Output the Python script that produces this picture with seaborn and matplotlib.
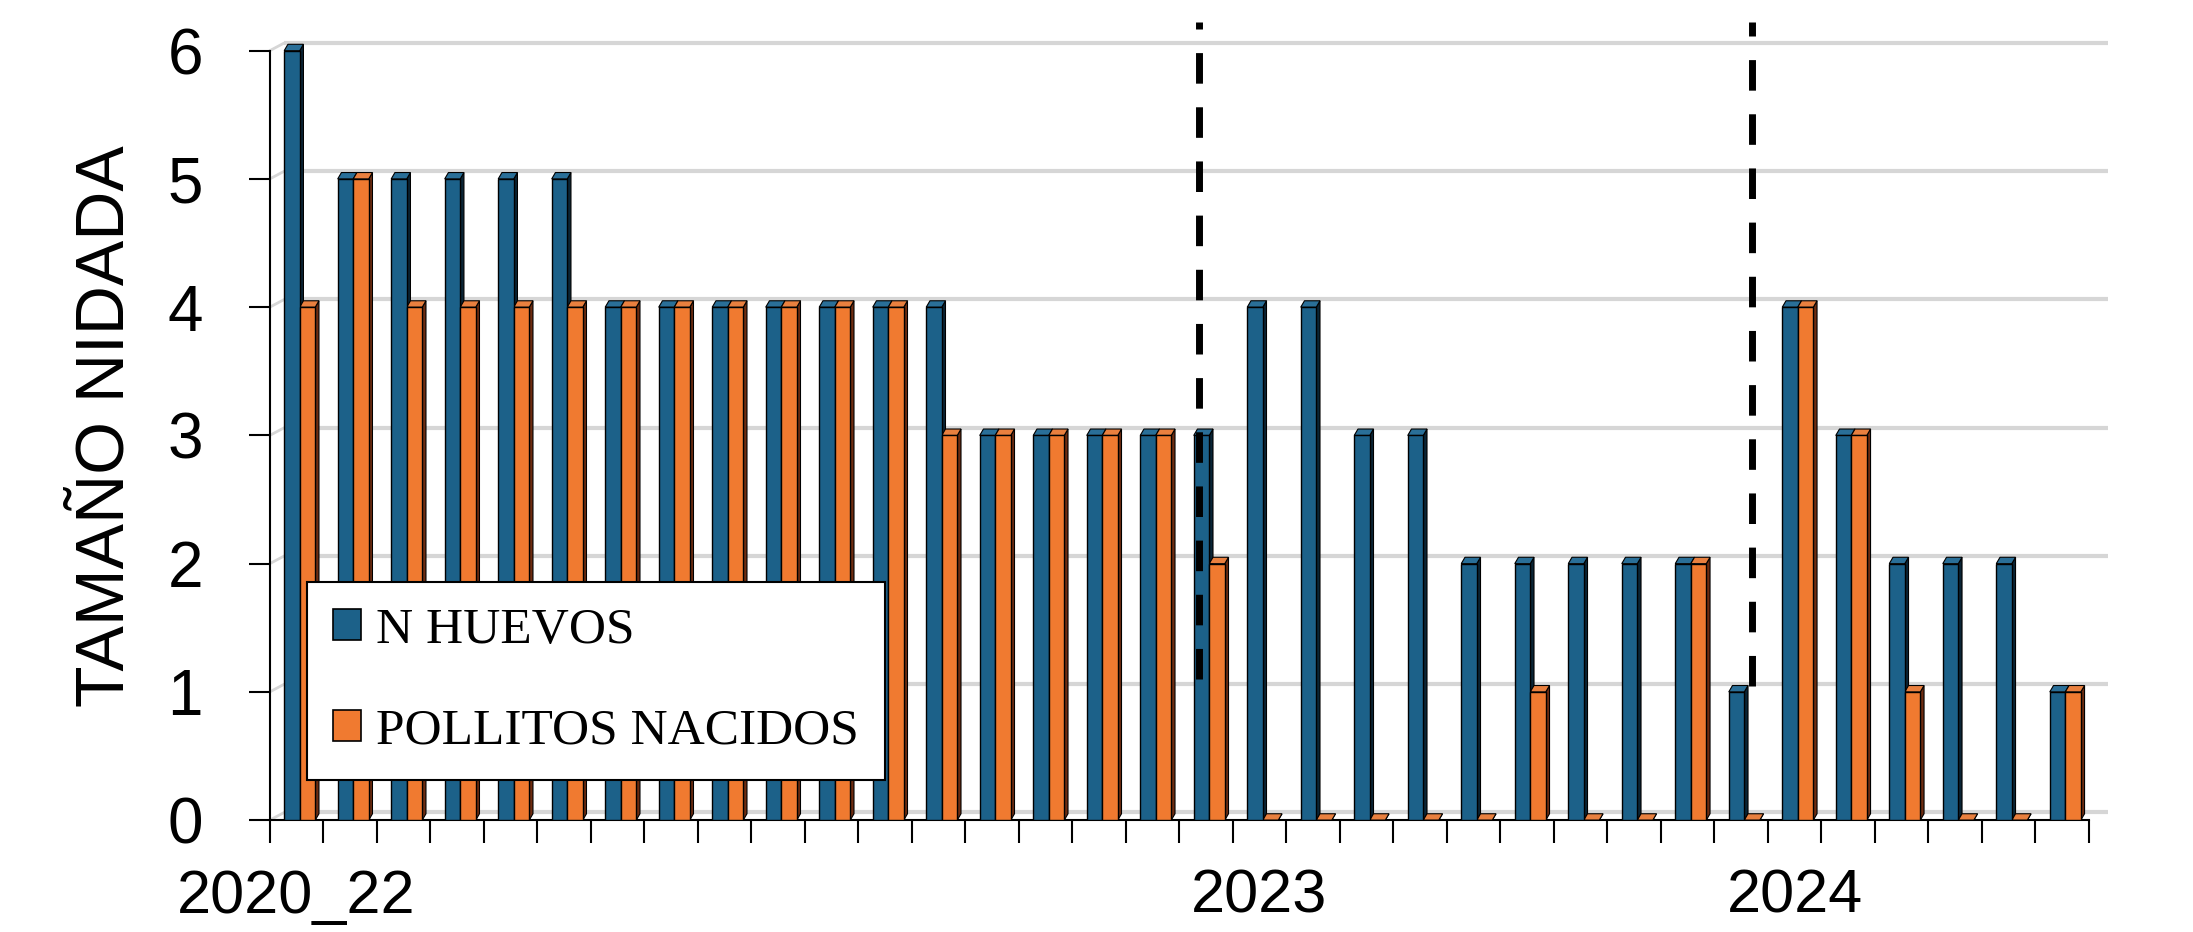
import numpy as np
import pandas as pd
import matplotlib
matplotlib.use("Agg")
import matplotlib.pyplot as plt
from matplotlib.patches import Polygon, Patch
import seaborn as sns

# ---------------- data ----------------
nests = list(range(1, 35))
n_huevos = [6, 5, 5, 5, 5, 5, 4, 4, 4, 4, 4, 4, 4, 3, 3, 3, 3, 3,
            4, 4, 3, 3, 2, 2, 2, 2, 2, 1, 4, 3, 2, 2, 2, 1]
pollitos = [4, 5, 4, 4, 4, 4, 4, 4, 4, 4, 4, 4, 3, 3, 3, 3, 3, 2,
            0, 0, 0, 0, 0, 1, 0, 0, 2, 0, 4, 3, 1, 0, 0, 1]
series_names = ["N HUEVOS", "POLLITOS NACIDOS"]
tick_label_pos = [0, 18, 28]
tick_labels = ["2020_22", "2023", "2024"]
y_ticks = [0, 1, 2, 3, 4, 5, 6]
separator_x = [16.87, 27.2]
separator_bottom = [1.1, 1.05]
y_label = "TAMAÑO NIDADA"

df = pd.DataFrame({
    "nido": nests * 2,
    "valor": n_huevos + pollitos,
    "serie": [series_names[0]] * len(nests) + [series_names[1]] * len(nests),
})

# ---------------- style ----------------
BLUE = "#1C6189"
ORANGE = "#F07A30"
BLUE_SIDE = "#0A2536"
ORANGE_SIDE = "#6E2C10"
BLUE_TOP = "#2A6F98"
ORANGE_TOP = "#E9803F"
GRID = "#D6D6D6"

sns.set_theme(style="white")
plt.rcParams["font.family"] = ["Liberation Sans", "DejaVu Sans"]
plt.rcParams["text.color"] = "black"

W, H = 2193, 932
fig = plt.figure(figsize=(W / 100, H / 100), dpi=100)
ax = fig.add_axes([0.123, 0.120, 0.8295, 0.860])

sns.barplot(data=df, x="nido", y="valor", hue="serie",
            palette=[BLUE, ORANGE], width=0.58, gap=0, saturation=1,
            edgecolor="black", linewidth=1.0, legend=False, ax=ax, zorder=3)

# pseudo-3D faces (bars sit slightly right of the category centre, as in a 3D chart)
shift = 0.06
d, dy = 0.07, 0.05
side_map = {matplotlib.colors.to_hex(BLUE): (BLUE_SIDE, BLUE_TOP),
            matplotlib.colors.to_hex(ORANGE): (ORANGE_SIDE, ORANGE_TOP)}
for p in list(ax.patches):
    p.set_x(p.get_x() + shift)
    x0, w, h = p.get_x(), p.get_width(), p.get_height()
    fc = matplotlib.colors.to_hex(p.get_facecolor())
    side_c, top_c = side_map.get(fc, ("#333333", "#777777"))
    side = Polygon([(x0 + w, 0), (x0 + w + d, dy), (x0 + w + d, h + dy), (x0 + w, h)],
                   closed=True, facecolor=side_c, edgecolor="black", lw=0.8, zorder=2.5)
    top = Polygon([(x0, h), (x0 + d, h + dy), (x0 + w + d, h + dy), (x0 + w, h)],
                  closed=True, facecolor=top_c, edgecolor="black", lw=0.8, zorder=2.6)
    ax.add_patch(side)
    ax.add_patch(top)

# gridlines with 3D back-wall offset
for yv in y_ticks:
    ax.hlines(yv + 0.06, -0.23, 33.85, color=GRID, lw=3, zorder=0.5, clip_on=False)
    ax.plot([-0.5, -0.23], [yv, yv + 0.06], color=GRID, lw=2, zorder=0.5, clip_on=False)

# dashed separators
for xs, yb in zip(separator_x, separator_bottom):
    ax.plot([xs, xs], [yb, 6.22], color="black", lw=5,
            linestyle=(0, (4.4, 3.4)), zorder=4, clip_on=False)

ax.set_xlim(-0.5, 33.5)
ax.set_ylim(0, 6.25)

# axes and ticks
for s in ["top", "right"]:
    ax.spines[s].set_visible(False)
ax.spines["left"].set_color("black")
ax.spines["bottom"].set_color("black")
ax.spines["left"].set_linewidth(1.5)
ax.spines["bottom"].set_linewidth(1.5)
ax.spines["left"].set_bounds(0, 6)

ax.set_yticks(y_ticks)
ax.set_yticklabels([str(v) for v in y_ticks])
ax.tick_params(axis="y", which="major", direction="out", length=15, width=1.5,
               pad=33, labelsize=46, colors="black", left=True)

ax.set_xticks(tick_label_pos)
ax.set_xticklabels(tick_labels)
ax.set_xticks(np.arange(-0.5, 34.0, 1.0), minor=True)
ax.tick_params(axis="x", which="major", length=0, pad=35, labelsize=44, colors="black")
ax.tick_params(axis="x", which="minor", direction="out", length=16.5, width=1.5,
               colors="black", bottom=True)
ax.set_xlabel("")
ax.set_ylabel("")
ax.grid(False)

fig.text(0.048, 0.543, y_label, rotation=90, ha="center", va="center",
         fontsize=49, color="black")

# legend
handles = [Patch(facecolor=BLUE, edgecolor="black", lw=1.2),
           Patch(facecolor=ORANGE, edgecolor="black", lw=1.2)]
leg = ax.legend(handles, series_names, loc="lower left",
                bbox_to_anchor=(0.140, 0.163), bbox_transform=fig.transFigure,
                prop={"family": ["Liberation Serif", "DejaVu Serif"], "size": 37},
                labelcolor="black",
                frameon=True, fancybox=False, framealpha=1, edgecolor="black",
                handlelength=0.55, handleheight=0.55, handletextpad=0.3,
                borderpad=0.5, labelspacing=1.05, borderaxespad=0)
leg.get_frame().set_linewidth(1.5)
leg.set_zorder(6)

fig.savefig("out.png", dpi=100, facecolor="white")
